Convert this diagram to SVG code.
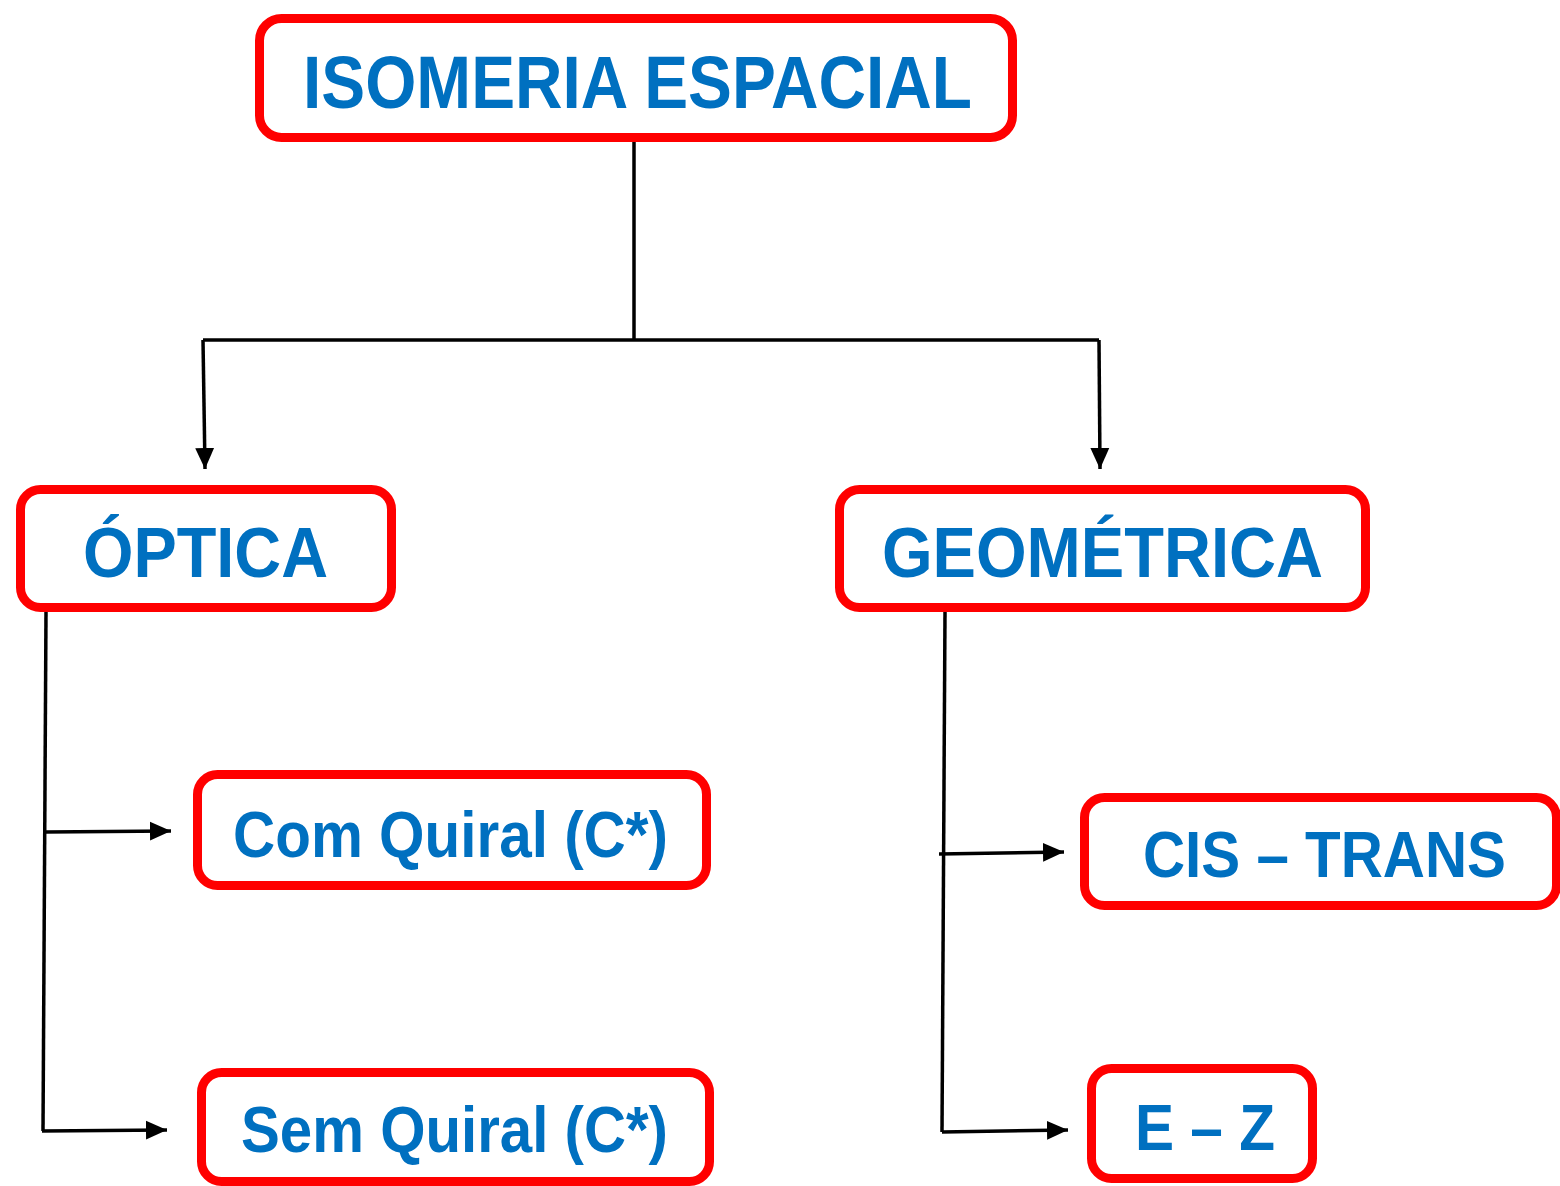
<svg xmlns="http://www.w3.org/2000/svg" width="1560" height="1186" viewBox="0 0 1560 1186">
<defs>
<style>
.box{fill:#fff;stroke:#ff0000;stroke-width:9}
.lbl{font-family:"Liberation Sans",Arial,sans-serif;font-weight:bold;fill:#0070c0;text-anchor:middle}
.ln{fill:none;stroke:#000;stroke-width:3.5}
</style>
<marker id="ah" viewBox="0 0 10 10" refX="10" refY="5" markerWidth="6" markerHeight="6" markerUnits="strokeWidth" orient="auto">
<path d="M0,0.5 L10,5 L0,9.5 z" fill="#000"/>
</marker>
</defs>
<rect width="1560" height="1186" fill="#fff"/>
<g id="connectors">
<path class="ln" d="M634,142 V340"/>
<path class="ln" d="M203,340 H1099"/>
<path class="ln" d="M203,340 L205,469" marker-end="url(#ah)"/>
<path class="ln" d="M1099,340 L1100,469" marker-end="url(#ah)"/>
<path class="ln" d="M46,612 L43,1131"/>
<path class="ln" d="M46,832 L171,831" marker-end="url(#ah)"/>
<path class="ln" d="M42,1131 L167,1130" marker-end="url(#ah)"/>
<path class="ln" d="M945,612 L942,1132"/>
<path class="ln" d="M939,854 L1064,852" marker-end="url(#ah)"/>
<path class="ln" d="M942,1132 L1068,1130" marker-end="url(#ah)"/>
</g>
<g id="isomeria">
<rect class="box" x="259.5" y="18.5" width="753" height="119" rx="22"/>
<text class="lbl" x="637.5" y="108" font-size="74" textLength="669" lengthAdjust="spacingAndGlyphs">ISOMERIA ESPACIAL</text>
</g>
<g id="optica">
<rect class="box" x="20.5" y="489.5" width="371" height="118" rx="20"/>
<text class="lbl" x="205.5" y="577" font-size="70" textLength="245" lengthAdjust="spacingAndGlyphs">ÓPTICA</text>
</g>
<g id="geometrica">
<rect class="box" x="839.5" y="489.5" width="526" height="118" rx="20"/>
<text class="lbl" x="1102.5" y="577" font-size="70" textLength="441" lengthAdjust="spacingAndGlyphs">GEOMÉTRICA</text>
</g>
<g id="com-quiral">
<rect class="box" x="197.5" y="774.5" width="509" height="111" rx="20"/>
<text class="lbl" x="450.5" y="857" font-size="65" textLength="435" lengthAdjust="spacingAndGlyphs">Com Quiral (C*)</text>
</g>
<g id="sem-quiral">
<rect class="box" x="201.5" y="1072.5" width="508" height="109" rx="20"/>
<text class="lbl" x="454.5" y="1152" font-size="65" textLength="427" lengthAdjust="spacingAndGlyphs">Sem Quiral (C*)</text>
</g>
<g id="cis-trans">
<rect class="box" x="1084.5" y="797.5" width="472" height="108" rx="20"/>
<text class="lbl" x="1324.5" y="877" font-size="65" textLength="363" lengthAdjust="spacingAndGlyphs">CIS – TRANS</text>
</g>
<g id="e-z">
<rect class="box" x="1091.5" y="1068.5" width="221" height="110" rx="20"/>
<text class="lbl" x="1205" y="1150" font-size="65" textLength="140" lengthAdjust="spacingAndGlyphs">E – Z</text>
</g>
</svg>
